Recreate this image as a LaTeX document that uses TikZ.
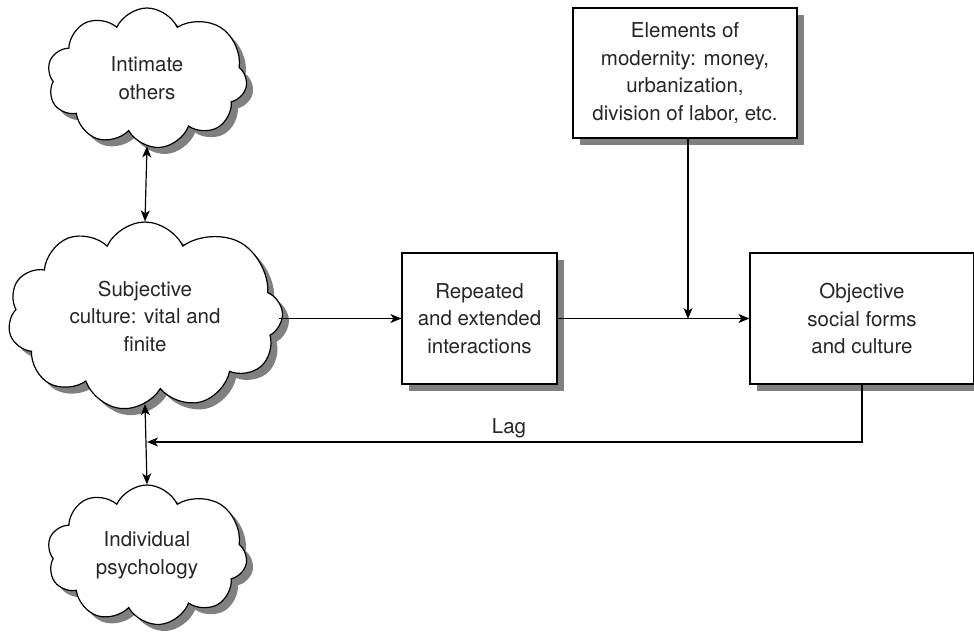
\documentclass[tikz,border=0pt]{standalone}
\usepackage{fontspec}
\setmainfont{TeX Gyre Heros}
\usetikzlibrary{shapes.symbols,shadows,arrows.meta}
\begin{document}
\begin{tikzpicture}[x=1pt,y=-1pt,
  line width=1.2pt,
  >={Stealth[length=11pt,width=9pt,inset=3pt]},
  shade/.style={drop shadow={shadow xshift=6.5pt,shadow yshift=-6.5pt,fill=black!50,opacity=1}},
  lbl/.style={font=\fontsize{20.5}{27.5}\selectfont, align=center, text=black!85},
  puff/.style={cloud, cloud puffs=9.6, cloud puff arc=130, cloud ignores aspect, draw, fill=white, shade, lbl, inner sep=0pt},
  boxx/.style={rectangle, draw, fill=white, shade, lbl, inner sep=0pt}
]
\useasboundingbox (0,0) rectangle (974,633);
\clip (0,0) rectangle (974,633);

\node[puff, minimum width=200pt, minimum height=140pt] (io) at (147,78) {Intimate\\others};
\node[puff, cloud puffs=10.6, minimum width=275pt, minimum height=188pt] (sc) at (145,316) {Subjective\\culture: vital and\\finite};
\node[puff, minimum width=200pt, minimum height=140pt] (ip) at (147,555) {Individual\\psychology};

\node[boxx, minimum width=155pt, minimum height=131pt] (rep) at (479.5,318.5) {Repeated\\and extended\\interactions};
\node[boxx, minimum width=224pt, minimum height=131pt] (obj) at (862,318.5) {Objective\\social forms\\and culture};
\node[boxx, minimum width=224pt, minimum height=130pt] (elem) at (685,73) {Elements of\\modernity: money,\\urbanization,\\division of labor, etc.};

\coordinate (join) at (688,319);
\coordinate (lagcorner) at (862,442);
\coordinate (lagend) at (147,442);

\draw[<->] (io.south) -- (sc.north);
\draw[<->] (sc.south) -- (ip.north);
\draw[->] (sc.east |- rep.west) -- (rep.west);
\draw[->] (rep.east) -- (obj.west);
\draw[->] (elem.south -| join) -- (join);
\draw[->] (obj.south) -- (lagcorner) -- (lagend);
\node[lbl, anchor=base] (lag) at (509,433) {Lag};
\end{tikzpicture}
\end{document}
